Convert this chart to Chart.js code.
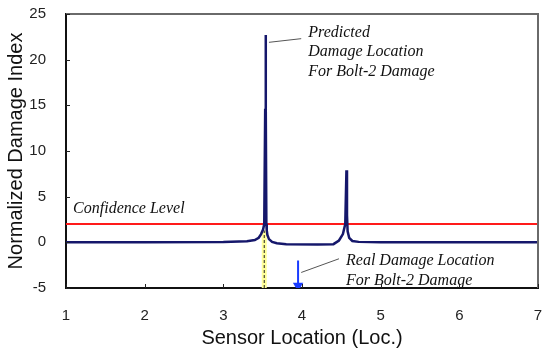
<!DOCTYPE html>
<html>
<head>
<meta charset="utf-8">
<script src="https://cdn.jsdelivr.net/npm/chart.js@4.4.1/dist/chart.umd.min.js"></script>
<style>
html, body { margin: 0; padding: 0; background: #fff; }
#wrap { width: 544px; height: 354px; }
</style>
</head>
<body>
<div id="wrap"><canvas id="chart0"></canvas></div>
<script>
// damage index curve
var sensorLoc = [1, 2, 3, 3.3, 3.4, 3.45, 3.48, 3.505, 3.52, 3.532, 3.537, 3.542, 3.547, 3.552, 3.56, 3.58, 3.62, 3.68, 3.8, 4.2, 4.4, 4.47, 4.52, 4.55, 4.565, 4.572, 4.58, 4.6, 4.64, 4.72, 5, 6, 7];
var damageIndex = [0, 0.02, 0.05, 0.12, 0.25, 0.5, 0.9, 1.4, 2.0, 14.5, 22.7, 14.5, 2.0, 1.3, 0.8, 0.35, 0.05, -0.1, -0.2, -0.25, -0.2, 0.2, 0.9, 2.0, 7.9, 3.0, 1.2, 0.5, 0.15, 0.05, 0, 0, 0];
var confidenceLevel = 2;
var predictedLoc = 3.52;
var realLoc = 3.95;
var arrowTop = -2;
var xTicks = [1, 2, 3, 4, 5, 6, 7];
var yTicks = [-5, 0, 5, 10, 15, 20, 25];
// leader lines for the two notes
var predLeaderX = [3.58, 3.99];
var predLeaderY = [21.9, 22.3];
var realLeaderX = [3.99, 4.47];
var realLeaderY = [-3.3, -1.8];
var notes = [
    { x: 4.08, y: 22.5, lines: ["Predicted", "Damage Location", "For Bolt-2 Damage"] },
    { x: 1.09, y: 3.2, lines: ["Confidence Level"] },
    { x: 4.56, y: -2.5, lines: ["Real Damage Location", "For Bolt-2 Damage"] }
];

function pts(xs, ys) {
    var ret = [];
    for (var i = 0; i < xs.length; i++) ret.push({ x: xs[i], y: ys[i] });
    return ret;
}

var framePlugin = {
    id: 'frame',
    afterDraw: function (chart) {
        var ctx = chart.ctx;
        var a = chart.chartArea;
        var xs = chart.scales.x, ys = chart.scales.y;
        ctx.save();
        // top / right edges are grey
        ctx.strokeStyle = '#6a6a6a';
        ctx.lineWidth = 2;
        ctx.beginPath();
        ctx.moveTo(a.left, a.top);
        ctx.lineTo(a.right, a.top);
        ctx.lineTo(a.right, a.bottom);
        ctx.stroke();
        // inward ticks
        ctx.strokeStyle = '#222';
        ctx.lineWidth = 1;
        ctx.beginPath();
        xTicks.forEach(function (v) {
            var px = Math.round(xs.getPixelForValue(v)) + 0.5;
            ctx.moveTo(px, a.bottom);
            ctx.lineTo(px, a.bottom - 4);
        });
        yTicks.forEach(function (v) {
            var py = Math.round(ys.getPixelForValue(v)) + 0.5;
            ctx.moveTo(a.left, py);
            ctx.lineTo(a.left + 4, py);
        });
        ctx.stroke();
        // notes
        ctx.fillStyle = '#111';
        ctx.font = 'italic 16px "Liberation Serif", "DejaVu Serif", serif';
        ctx.textBaseline = 'alphabetic';
        notes.forEach(function (n) {
            var px = xs.getPixelForValue(n.x);
            var py = ys.getPixelForValue(n.y);
            n.lines.forEach(function (t, k) {
                ctx.fillText(t, px, py + k * 19.5);
            });
        });
        ctx.restore();
    }
};

// first dataset is drawn on top
new Chart('chart0', {
    type: 'scatter',
    data: {
        datasets: [
            {
                label: 'leader 1',
                data: pts(predLeaderX, predLeaderY),
                showLine: true, borderColor: '#555', borderWidth: 1, pointRadius: 0
            },
            {
                label: 'leader 2',
                data: pts(realLeaderX, realLeaderY),
                showLine: true, borderColor: '#555', borderWidth: 1, pointRadius: 0
            },
            {
                label: 'real arrow',
                data: pts([realLoc, realLoc], [arrowTop, -4.75]),
                showLine: true, borderColor: '#1a3cff', borderWidth: 2,
                pointRadius: [0, 4], pointStyle: 'triangle', pointRotation: 180,
                pointBackgroundColor: '#1a3cff', pointBorderColor: '#1a3cff'
            },
            {
                label: 'Damage Index',
                data: pts(sensorLoc, damageIndex),
                showLine: true, borderColor: '#15176b', borderWidth: 2.5, pointRadius: 0,
                tension: 0
            },
            {
                label: 'predicted mark dash',
                data: pts([predictedLoc, predictedLoc], [-5, 1.3]),
                showLine: true, borderColor: '#222', borderWidth: 1, borderDash: [3, 2], pointRadius: 0
            },
            {
                label: 'predicted mark',
                data: pts([predictedLoc, predictedLoc], [-5, 1.3]),
                showLine: true, borderColor: '#ffff99', borderWidth: 5, pointRadius: 0
            },
            {
                label: 'Confidence Level',
                data: pts([1, 7], [confidenceLevel, confidenceLevel]),
                showLine: true, borderColor: '#ff1a1a', borderWidth: 2, pointRadius: 0
            }
        ]
    },
    options: {
        responsive: true,
        maintainAspectRatio: false,
        animation: false,
        layout: { padding: { top: 14, right: 3, left: 0, bottom: 0 } },
        plugins: { legend: { display: false }, tooltip: { enabled: false } },
        scales: {
            x: {
                type: 'linear', min: 1, max: 7,
                afterBuildTicks: function (s) { s.ticks = xTicks.map(function (v) { return { value: v }; }); },
                afterFit: function (s) { s.height = 66; s.paddingLeft = 0; s.paddingRight = 0; },
                grid: { display: false },
                border: { color: '#111', width: 2 },
                ticks: { color: '#222', padding: 11, font: { family: '"Liberation Sans", Arial, sans-serif', size: 15 } },
                title: {
                    display: true, text: 'Sensor Location (Loc.)', color: '#111',
                    font: { family: '"Liberation Sans", Arial, sans-serif', size: 20 }, padding: { top: 7 }
                }
            },
            y: {
                min: -5, max: 25,
                afterBuildTicks: function (s) { s.ticks = yTicks.map(function (v) { return { value: v }; }); },
                afterFit: function (s) { s.width = 66; s.paddingTop = 0; s.paddingBottom = 0; },
                grid: { display: false },
                border: { color: '#111', width: 2 },
                ticks: { color: '#222', padding: 12, font: { family: '"Liberation Sans", Arial, sans-serif', size: 15 } },
                title: {
                    display: true, text: 'Normalized Damage Index', color: '#111',
                    font: { family: '"Liberation Sans", Arial, sans-serif', size: 20 }, padding: { bottom: 2 }
                }
            }
        }
    },
    plugins: [framePlugin]
});
</script>
</body>
</html>
